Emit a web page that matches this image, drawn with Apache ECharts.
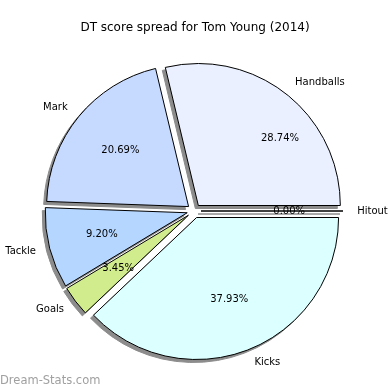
<!DOCTYPE html>
<html><head><meta charset="utf-8">
<script src="https://cdn.jsdelivr.net/npm/echarts@6/dist/echarts.min.js"></script>
<style>html,body{margin:0;padding:0;background:#fff}#c{width:390px;height:390px}</style>
</head><body><div id="c"></div>
<script>
const categories = ['Handballs', 'Mark', 'Tackle', 'Goals', 'Kicks', 'Hitout'];
const values = [25, 18, 8, 3, 33, 0];
const colors = ['#eaf0ff', '#c6d9ff', '#b4d6ff', '#d0ec8c', '#dcffff', '#f0f0f0'];
const titleText = 'DT score spread for Tom Young (2014)';
const watermark = 'Dream-Stats.com';

const R = 142;
const cx = 194, cy = 211;
const font = 'DejaVu Sans';
const total = values.reduce((a, b) => a + b, 0);

function mk(color) {
  return categories.map((c, i) => ({
    name: c, value: values[i], selected: true,
    itemStyle: { color: color || colors[i] }
  }));
}

const base = {
  type: 'pie', clockwise: false, startAngle: 0,
  selectedMode: 'multiple', selectedOffset: 7, avoidLabelOverlap: false,
  minAngle: 0, stillShowZeroSum: true, silent: true,
  emphasis: { disabled: true }
};

const chart = echarts.init(document.getElementById('c'), null, { renderer: 'canvas' });
chart.setOption({
  animation: false,
  title: [
    { text: titleText, left: 'center', top: 17,
      textStyle: { fontFamily: font, fontSize: 12, fontWeight: 'normal', color: '#000' } },
    { text: watermark, left: 0, bottom: 3, padding: 0,
      textStyle: { fontFamily: font, fontSize: 11.5, fontWeight: 'normal', color: '#a0a0a0' } }
  ],
  series: [
    Object.assign({}, base, {
      center: [cx - 3, cy + 3], radius: R, z: 1,
      data: mk('#8c8c8c'),
      itemStyle: { borderColor: '#8c8c8c', borderWidth: 1 },
      label: { show: false }, labelLine: { show: false }
    }),
    Object.assign({}, base, {
      center: [cx, cy], radius: R, z: 2,
      data: mk(null),
      itemStyle: { borderColor: '#000', borderWidth: 1 },
      label: { show: true, position: 'outside', formatter: '{b}', fontFamily: font, fontSize: 10,
        color: '#000', distanceToLabelLine: 0 },
      labelLine: { show: false, length: R * 0.1, length2: 0 }
    }),
    Object.assign({}, base, {
      center: [cx, cy], radius: R * 1.2, z: 3,
      data: mk('rgba(0,0,0,0)'),
      itemStyle: { borderWidth: 0 },
      label: { show: true, position: 'inside',
        formatter: p => (p.value / total * 100).toFixed(2) + '%',
        fontFamily: font, fontSize: 10, color: '#000' },
      labelLine: { show: false },
      labelLayout: p => (p.dataIndex === 0 ? { dx: 27, dy: 2 } : {})
    })
  ]
});
</script>
</body></html>
